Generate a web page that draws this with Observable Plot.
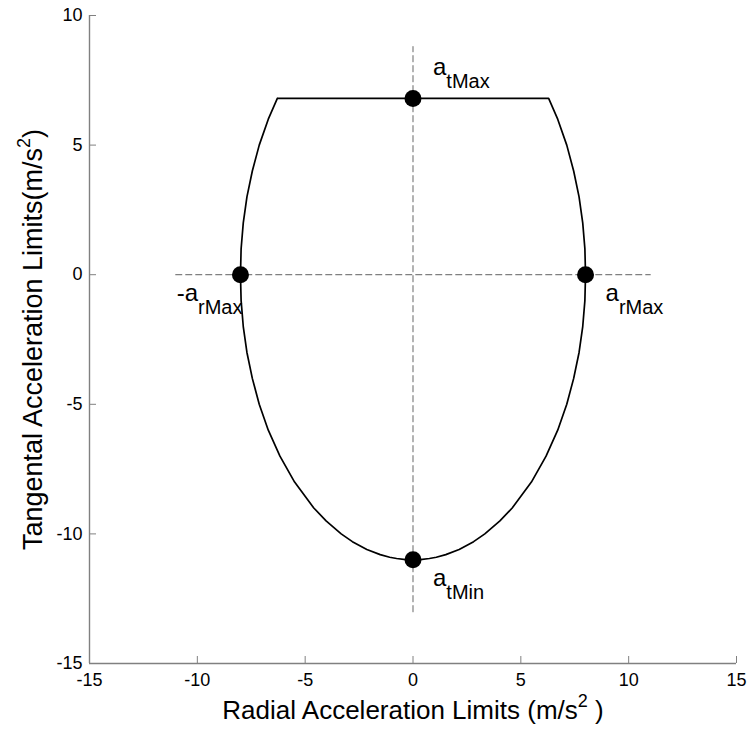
<!DOCTYPE html>
<html><head><meta charset="utf-8">
<script src="https://cdn.jsdelivr.net/npm/d3@7"></script>
<script src="https://cdn.jsdelivr.net/npm/@observablehq/plot@0.6"></script>
<style>
html,body{margin:0;padding:0;background:#fff;}
#chart svg{display:block;}
</style>
</head><body><div id="chart"></div>
<script>
// Boundary curve: flat top, then round the right side, bottom, left side
const curveX = [-6.29, 6.29, 6.71, 7.13, 7.45, 7.70, 7.87, 7.97, 8.00, 7.97, 7.87, 7.70, 7.45, 7.13, 6.71, 6.17, 5.49, 4.60, 4.03, 3.33, 2.81, 2.14, 1.52, 1.08, 0.76, 0.34, 0.00,
  -0.34, -0.76, -1.08, -1.52, -2.14, -2.81, -3.33, -4.03, -4.60, -5.49, -6.17, -6.71, -7.13, -7.45, -7.70, -7.87, -7.97, -8.00, -7.97, -7.87, -7.70, -7.45, -7.13, -6.71, -6.29];
const curveY = [6.8, 6.8, 6, 5, 4, 3, 2, 1, 0, -1, -2, -3, -4, -5, -6, -7, -8, -9, -9.5, -10, -10.3, -10.6, -10.8, -10.9, -10.95, -10.99, -11,
  -10.99, -10.95, -10.9, -10.8, -10.6, -10.3, -10, -9.5, -9, -8, -7, -6, -5, -4, -3, -2, -1, 0, 1, 2, 3, 4, 5, 6, 6.8];

// Marked points
const markerNames = ["atMax", "-arMax", "arMax", "atMin"];
const markerX = [0, -8, 8, 0];
const markerY = [6.8, 0, 0, -11];
const labelMain = ["a", "-a", "a", "a"];
const labelSub = ["tMax", "rMax", "rMax", "tMin"];

// Dashed reference axes
const hDashX = [-11, 11];
const hDashY = [0, 0];
const vDashX = [0, 0];
const vDashY = [-13, 8.8];

// Ticks
const xTicks = [-15, -10, -5, 0, 5, 10, 15];
const yTicks = [-15, -10, -5, 0, 5, 10];

// Titles: [text, superscript, rest]
const xTitle = ["Radial Acceleration Limits (m/s", "2", " )"];
const yTitle = ["Tangental Acceleration Limits(m/s", "2", ")"];

const gray = "#808080";
const labels = markerNames.map((n, i) => ({name: n, x: markerX[i], y: markerY[i], text: labelMain[i] + "_" + labelSub[i]}));
const fmt = d => String(d);

const plot = Plot.plot({
  width: 750,
  height: 735,
  marginLeft: 89,
  marginRight: 14,
  marginTop: 15,
  marginBottom: 72,
  style: "font-family: 'Liberation Sans', Arial, sans-serif; background: white; overflow: visible; color: black;",
  x: {domain: [-15, 15], label: null},
  y: {domain: [-15, 10], label: null},
  marks: [
    Plot.line(hDashX, {x: hDashX, y: hDashY, stroke: gray, strokeWidth: 1.2, strokeDasharray: "6,4"}),
    Plot.line(vDashX, {x: vDashX, y: vDashY, stroke: gray, strokeWidth: 1.2, strokeDasharray: "6,4"}),
    Plot.ruleY([-15], {stroke: gray, strokeWidth: 1.4}),
    Plot.ruleX([-15], {stroke: gray, strokeWidth: 1.4}),
    Plot.axisX(xTicks, {tickSize: -7, tickPadding: 17, tickFormat: fmt, stroke: gray, fill: "black", fontSize: 18, label: null}),
    Plot.axisY(yTicks, {tickSize: -7, tickPadding: 14, tickFormat: fmt, stroke: gray, fill: "black", fontSize: 18, label: null}),
    Plot.line(curveX, {x: curveX, y: curveY, stroke: "black", strokeWidth: 1.7}),
    Plot.dot(markerX, {x: markerX, y: markerY, r: 8.5, fill: "black"}),
    Plot.text(labels.filter(d => d.name === "atMax"), {x: "x", y: "y", text: "text", textAnchor: "start", lineAnchor: "bottom", dx: 20, dy: -23, fontSize: 24}),
    Plot.text(labels.filter(d => d.name === "arMax" || d.name === "atMin"), {x: "x", y: "y", text: "text", textAnchor: "start", lineAnchor: "bottom", dx: 20, dy: 26, fontSize: 24}),
    Plot.text(labels.filter(d => d.name === "-arMax"), {x: "x", y: "y", text: "text", textAnchor: "end", lineAnchor: "bottom", dx: 2, dy: 26, fontSize: 24}),
    Plot.text([xTitle.join("^")], {text: d => d, frameAnchor: "bottom", textAnchor: "middle", lineAnchor: "bottom", dy: 55, fontSize: 26}),
    Plot.text([yTitle.join("^")], {text: d => d, frameAnchor: "left", textAnchor: "middle", lineAnchor: "bottom", rotate: -90, dx: -48, dy: 0, fontSize: 27})
  ]
});

const svg = d3.select(plot);
svg.selectAll("text").each(function () {
  const s = this.textContent;
  const t = d3.select(this);
  if (s.includes("_")) {
    const [m, sub] = s.split("_");
    t.text(null);
    t.append("tspan").text(m);
    t.append("tspan").attr("font-size", 20).attr("dy", 13).text(sub);
  } else if (s.includes("^")) {
    const [m, sup, rest] = s.split("^");
    t.text(null);
    t.append("tspan").text(m);
    t.append("tspan").attr("font-size", 18).attr("dy", -12).text(sup);
    t.append("tspan").attr("dy", 12).text(rest);
  }
});

document.getElementById("chart").appendChild(plot);
</script>
</body></html>
